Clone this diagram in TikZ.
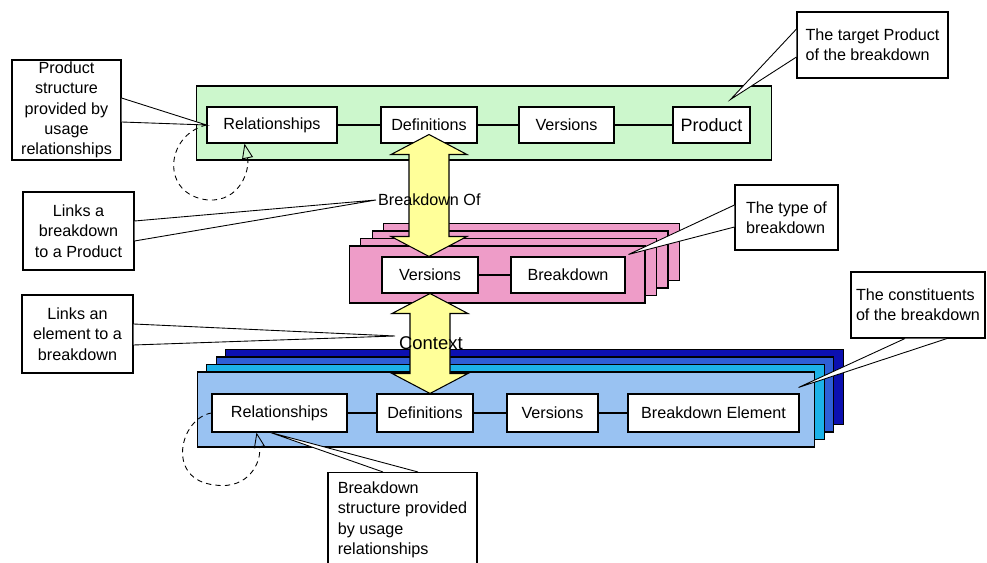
\documentclass[tikz,border=0pt]{standalone}
\usepackage{fontspec}
\setmainfont{Liberation Sans}
\usetikzlibrary{arrows.meta,calc}
\definecolor{bdInk}{HTML}{000000}
\definecolor{bdGreenFill}{HTML}{CCF7CC}
\definecolor{bdPinkFill}{HTML}{EE9CC8}
\definecolor{bdSkyFill}{HTML}{99C2F2}
\definecolor{bdCyanFill}{HTML}{1CB2E8}
\definecolor{bdRoyalFill}{HTML}{2F5FD6}
\definecolor{bdNavyFill}{HTML}{0C10B0}
\definecolor{bdArrowFill}{HTML}{FFFF99}
\newcommand\bdfont{\fontsize{9.2pt}{11.6pt}\selectfont}
\tikzset{
  bd/base/.style={draw=bdInk, line width=0.6pt, inner sep=0pt},
  bd/panel/.style={bd/base},
  bd/item/.style={bd/base, fill=white, font=\bdfont, minimum height=0.72cm},
  bd/callout/.style={bd/base, fill=white, font=\bdfont},
  bd/note/.style={bd/callout, align=left},
  bd/link/.style={draw=bdInk, line width=0.6pt},
  bd/pointer/.style={draw=bdInk, fill=white, line width=0.5pt},
  bd/loop/.style={draw=bdInk, line width=0.5pt, dash pattern=on 3pt off 2.4pt,
    -{Triangle[open, length=0.3cm, width=0.22cm]}},
  bd/bigarrow/.style={draw=bdInk, fill=bdArrowFill, line width=0.6pt,
    line join=miter},
  bd/label/.style={font=\bdfont, inner sep=1pt},
}

\begin{document}
\begin{tikzpicture}[x=0.02cm, y=-0.02cm]
\useasboundingbox (0,0) rectangle (987,563);

% product layer
\node[bd/panel, fill=bdGreenFill, minimum width=11.52cm, minimum height=1.48cm]
  (green) at (484,123) {};
\node[bd/item, minimum width=2.6cm] (rel1) at (272,125) {Relationships};
\node[bd/item, minimum width=1.92cm] (def1) at (429,125) {Definitions};
\node[bd/item, minimum width=1.9cm] (ver1) at (566.5,125) {Versions};
\node[bd/item, minimum width=1.54cm, font=\fontsize{10.2pt}{12pt}\selectfont]
  (prod) at (711.5,125) {Product};
\draw[bd/link] (rel1) -- (def1) -- (ver1) -- (prod);

% breakdown layer
\foreach \i in {3,2,1,0}
  \node[bd/panel, fill=bdPinkFill, minimum width=5.92cm, minimum height=1.14cm]
    (pink\i) at (497+11.5*\i,274.5-7.5*\i) {};
\node[bd/item, minimum width=1.92cm] (ver2) at (430,275) {Versions};
\node[bd/item, minimum width=2.28cm] (bd) at (568,275) {Breakdown};
\draw[bd/link] (ver2) -- (bd);

% element layer
\foreach \i/\c in {3/bdNavyFill,2/bdRoyalFill,1/bdCyanFill,0/bdSkyFill}
  \node[bd/panel, fill=\c, minimum width=12.36cm, minimum height=1.5cm]
    (blue\i) at (506+9.5*\i,409.5-7.5*\i) {};
\node[bd/item, minimum width=2.7cm, minimum height=0.76cm] (rel2) at (279.5,413) {Relationships};
\node[bd/item, minimum width=1.92cm, minimum height=0.76cm] (def2) at (425,413) {Definitions};
\node[bd/item, minimum width=1.82cm, minimum height=0.76cm] (ver3) at (552.5,413) {Versions};
\node[bd/item, minimum width=3.42cm, minimum height=0.76cm] (bde) at (713.5,413) {Breakdown Element};
\draw[bd/link] (rel2) -- (def2) -- (ver3) -- (bde);

% usage loops
\coordinate (relIn1) at ($(rel1.south west)+(38,0)$);
\coordinate (relIn2) at ($(rel2.south west)+(45,0)$);
\draw[bd/loop] (rel1.west) .. controls (165,135) and (160,195) .. (208,200)
  .. controls (240,202) and (250,170) .. (relIn1);
\draw[bd/loop] (rel2.west) .. controls (180,418) and (165,480) .. (215,485)
  .. controls (250,490) and (262,460) .. (relIn2);

% big double arrows
\coordinate (brkTop) at ($(def1.south)+(0,-9)$);
\coordinate (ctxBot) at (def2.north);
\foreach \a/\b in {brkTop/ver2.north, ver2.south/ctxBot}
  \draw[bd/bigarrow] let \p1=(\a), \p2=(\b) in
    (\x1,\y1) -- (\x1+0.76cm,\y1-0.4cm) -- (\x1+0.4cm,\y1-0.4cm)
    -- (\x1+0.4cm,\y2+0.4cm) -- (\x1+0.76cm,\y2+0.4cm) -- (\x1,\y2)
    -- (\x1-0.76cm,\y2+0.4cm) -- (\x1-0.4cm,\y2+0.4cm)
    -- (\x1-0.4cm,\y1-0.4cm) -- (\x1-0.76cm,\y1-0.4cm) -- cycle;
\node[bd/label, anchor=west] (bdof) at (376,200) {Breakdown Of};
\node[bd/label, anchor=west, font=\fontsize{10.5pt}{12pt}\selectfont]
  (ctx) at (397,343) {Context};

% callouts
\node[bd/callout, align=center, minimum width=2.18cm, minimum height=2.0cm]
  (pstruct) at (66.5,110) {Product\\structure\\provided by\\usage\\relationships};
\node[bd/callout, align=center, minimum width=2.22cm, minimum height=1.56cm]
  (linksP) at (78.5,231) {Links a\\breakdown\\to a Product};
\node[bd/callout, align=center, minimum width=2.22cm, minimum height=1.56cm]
  (linksE) at (77.5,334) {Links an\\element to a\\breakdown};
\node[bd/note, minimum width=3.02cm, minimum height=1.32cm]
  (tgt) at (872.5,45) {The target Product\\of the breakdown};
\node[bd/note, minimum width=2.06cm, minimum height=1.3cm]
  (typ) at (786.5,217.5) {The type of\\breakdown};
\node[bd/note, minimum width=2.68cm, minimum height=1.32cm]
  (cons) at (918,305) {The constituents\\of the breakdown};
\node[bd/note, minimum width=2.98cm, minimum height=1.9cm]
  (bstruct) at (402.5,520) {Breakdown\\structure provided\\by usage\\relationships};

\draw[bd/pointer] ($(pstruct.east)+(0,-12)$) -- (rel1.west) -- ($(pstruct.east)+(0,12)$);
\draw[bd/pointer] ($(linksP.east)+(0,-10)$) -- (bdof.west) -- ($(linksP.east)+(0,10)$);
\draw[bd/pointer] ($(linksE.east)+(0,-10)$) -- ($(ctx.west)+(-2,-7)$) -- ($(linksE.east)+(0,11)$);
\draw[bd/pointer] ($(tgt.west)+(0,-16)$) -- ($(prod.north east)+(-20,-7)$) -- ($(tgt.west)+(0,12)$);
\draw[bd/pointer] ($(typ.west)+(0,-12.5)$) -- ($(bd.north east)+(3,-2)$) -- ($(typ.west)+(0,9.5)$);
\draw[bd/pointer] ($(cons.south)+(-13,0)$) -- ($(bde.north east)+(-1,-6)$) -- ($(cons.south)+(29,0)$);
\draw[bd/pointer] ($(bstruct.north)+(-19.5,0)$) -- ($(rel2.south)+(-9,0)$) -- ($(bstruct.north)+(15.5,0)$);
\end{tikzpicture}
\end{document}
